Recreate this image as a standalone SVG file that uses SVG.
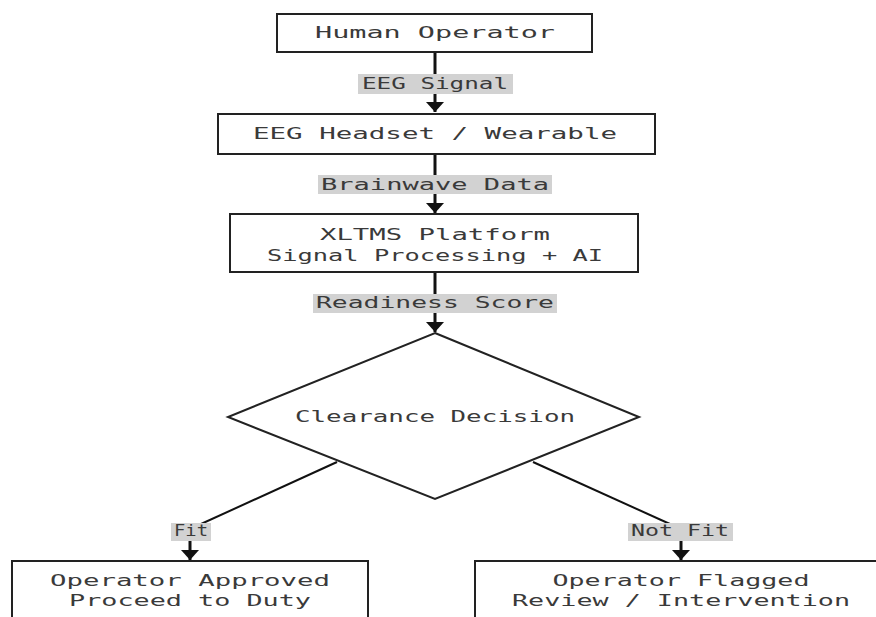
<svg xmlns="http://www.w3.org/2000/svg" width="876" height="617" viewBox="0 0 876 617">
<defs>
<style>
.box{fill:#fff;stroke:#222;stroke-width:2}
.t{font-family:"DejaVu Sans Mono","Liberation Mono",monospace;font-size:15px;fill:#3a3a3a;text-anchor:middle}
.lbg{fill:#d2d2d2}
.edge{fill:none;stroke:#111;stroke-width:3}
.diag{fill:none;stroke:#111;stroke-width:2}
</style>
<marker id="ah" viewBox="0 0 10 18" refX="10" refY="9" markerWidth="10" markerHeight="18" markerUnits="userSpaceOnUse" orient="auto">
<path d="M0,0 L10,9 L0,18 z" fill="#111"/>
</marker>
</defs>
<rect width="876" height="617" fill="#fff"/>
<g id="connectors">
<path class="edge" d="M435,52 L435,112" marker-end="url(#ah)"/>
<path class="edge" d="M435,154 L435,213" marker-end="url(#ah)"/>
<path class="edge" d="M435,272 L435,332" marker-end="url(#ah)"/>
<path class="diag" d="M337,462 L190,529"/>
<path class="edge" d="M190,529 L190,560" marker-end="url(#ah)"/>
<path class="diag" d="M533,462 L681,529"/>
<path class="edge" d="M681,529 L681,560" marker-end="url(#ah)"/>
<g id="label-eeg-signal"><rect class="lbg" x="358" y="74" width="155" height="20"/><text class="t" x="435" y="89" textLength="146" lengthAdjust="spacingAndGlyphs">EEG Signal</text></g>
<g id="label-brainwave"><rect class="lbg" x="318" y="175" width="234" height="19"/><text class="t" x="435" y="190" textLength="228" lengthAdjust="spacingAndGlyphs">Brainwave Data</text></g>
<g id="label-readiness"><rect class="lbg" x="313" y="294" width="244" height="19"/><text class="t" x="435" y="308" textLength="238" lengthAdjust="spacingAndGlyphs">Readiness Score</text></g>
<g id="label-fit"><rect class="lbg" x="171" y="523" width="40" height="18"/><text class="t" x="191" y="536" textLength="34" lengthAdjust="spacingAndGlyphs">Fit</text></g>
<g id="label-notfit"><rect class="lbg" x="628" y="523" width="105" height="18"/><text class="t" x="680" y="536" textLength="98" lengthAdjust="spacingAndGlyphs">Not Fit</text></g>
</g>
<g id="human-operator">
<rect class="box" x="277" y="14" width="315" height="38"/>
<text class="t" x="435" y="38" textLength="240" lengthAdjust="spacingAndGlyphs">Human Operator</text>
</g>
<g id="eeg-headset">
<rect class="box" x="218" y="114" width="437" height="40"/>
<text class="t" x="435" y="139" textLength="364" lengthAdjust="spacingAndGlyphs">EEG Headset / Wearable</text>
</g>
<g id="xltms">
<rect class="box" x="230" y="214" width="408" height="58"/>
<text class="t" x="435" y="240" textLength="230" lengthAdjust="spacingAndGlyphs">XLTMS Platform</text>
<text class="t" x="435" y="261" textLength="336" lengthAdjust="spacingAndGlyphs">Signal Processing + AI</text>
</g>
<g id="clearance">
<polygon class="box" points="435,333 639,417 435,499 228,417"/>
<text class="t" x="435" y="422" textLength="280" lengthAdjust="spacingAndGlyphs">Clearance Decision</text>
</g>
<g id="approved">
<rect class="box" x="12" y="561" width="356" height="70"/>
<text class="t" x="190" y="586" textLength="280" lengthAdjust="spacingAndGlyphs">Operator Approved</text>
<text class="t" x="190" y="606" textLength="242" lengthAdjust="spacingAndGlyphs">Proceed to Duty</text>
</g>
<g id="flagged">
<rect class="box" x="475" y="561" width="412" height="70"/>
<text class="t" x="681" y="586" textLength="257" lengthAdjust="spacingAndGlyphs">Operator Flagged</text>
<text class="t" x="681" y="606" textLength="338" lengthAdjust="spacingAndGlyphs">Review / Intervention</text>
</g>
</svg>
